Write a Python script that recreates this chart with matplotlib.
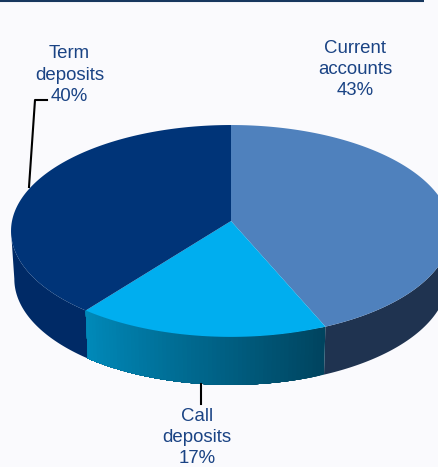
#!/usr/bin/env python3
import numpy as np
import matplotlib
matplotlib.use('Agg')
import matplotlib.pyplot as plt

CATEGORIES = ['Current\naccounts', 'Call\ndeposits', 'Term\ndeposits']
SHARES = [43, 17, 40]

TOP_COLOURS = ['#4f81bd', '#00aeef', '#003478']
WALL_COLOURS = ['#1f3350', None, '#002a66']
TEXT_COLOUR = '#1a4384'
BACKGROUND = '#fafafd'

# Pie geometry in pixels
CX, CY = 231, 221
RX, RY = 219, 105
PERSPECTIVE = 0.094
DEPTH = 48
BOTTOM_SCALE = 0.985
SKEW = 2.1


def project(deg, lower=False):
    """Map an angle (clockwise from 12 o'clock) on to the tilted disc."""
    phi = np.radians(deg + SKEW*(1 - np.cos(np.radians(deg)))/2)
    u = np.sin(phi)
    v = -np.cos(phi)
    w = 1 - PERSPECTIVE*v
    if lower:
        return CX + BOTTOM_SCALE*RX*u/w, CY + DEPTH + RY*v/w
    return CX + RX*u/w, CY + RY*v/w


def wall(ax, start, end, colour):
    deg = np.linspace(start, end, 120)
    xt, yt = project(deg)
    xb, yb = project(deg, lower=True)
    ax.fill(np.r_[xt, xb[::-1]], np.r_[yt, yb[::-1]], color=colour, lw=0)


fig = plt.figure(figsize=(4.39, 4.67), dpi=100, facecolor=BACKGROUND)
ax = fig.add_axes([0, 0, 1, 1])
ax.set_xlim(0, 439)
ax.set_ylim(467, 0)
ax.axis('off')

edges = np.r_[0, np.cumsum(SHARES)]*3.6

# Header rule
ax.plot([0, 424], [0.5, 0.5], color='#17375e', lw=1.5, solid_capstyle='butt')

# Side walls, each one stops at the disc's outermost point
wall(ax, 96, edges[1], WALL_COLOURS[0])
wall(ax, edges[2], 263.5, WALL_COLOURS[2])

# The call deposits wall fades to the right, painted over itself so no seams show
steps = np.linspace(edges[1], edges[2], 61)
left = np.array(matplotlib.colors.to_rgb('#0089b9'))
right = np.array(matplotlib.colors.to_rgb('#00445f'))
for i in range(60):
    frac = i/59
    wall(ax, steps[i], edges[2], left*frac + right*(1 - frac))

# Top of the pie
for i in range(3):
    deg = np.linspace(edges[i], edges[i + 1], 200)
    xt, yt = project(deg)
    ax.fill(np.r_[CX, xt], np.r_[CY, yt], color=TOP_COLOURS[i], lw=0)

# Leader lines
ax.plot([29, 35, 47], [187, 100, 100], color='black', lw=1.5)
ax.plot([201, 201], [384, 404], color='black', lw=1.5)

label_pos = [(355.5, 69.5), (197, 437.5), (69.5, 75)]
for name, share, (x, y) in zip(CATEGORIES, SHARES, label_pos):
    ax.text(x, y, f'{name}\n{share}%', ha='center', va='center',
            family='Liberation Sans', fontsize=13.4, color=TEXT_COLOUR,
            linespacing=1.33)

fig.savefig('out.png', dpi=100, facecolor=BACKGROUND)
